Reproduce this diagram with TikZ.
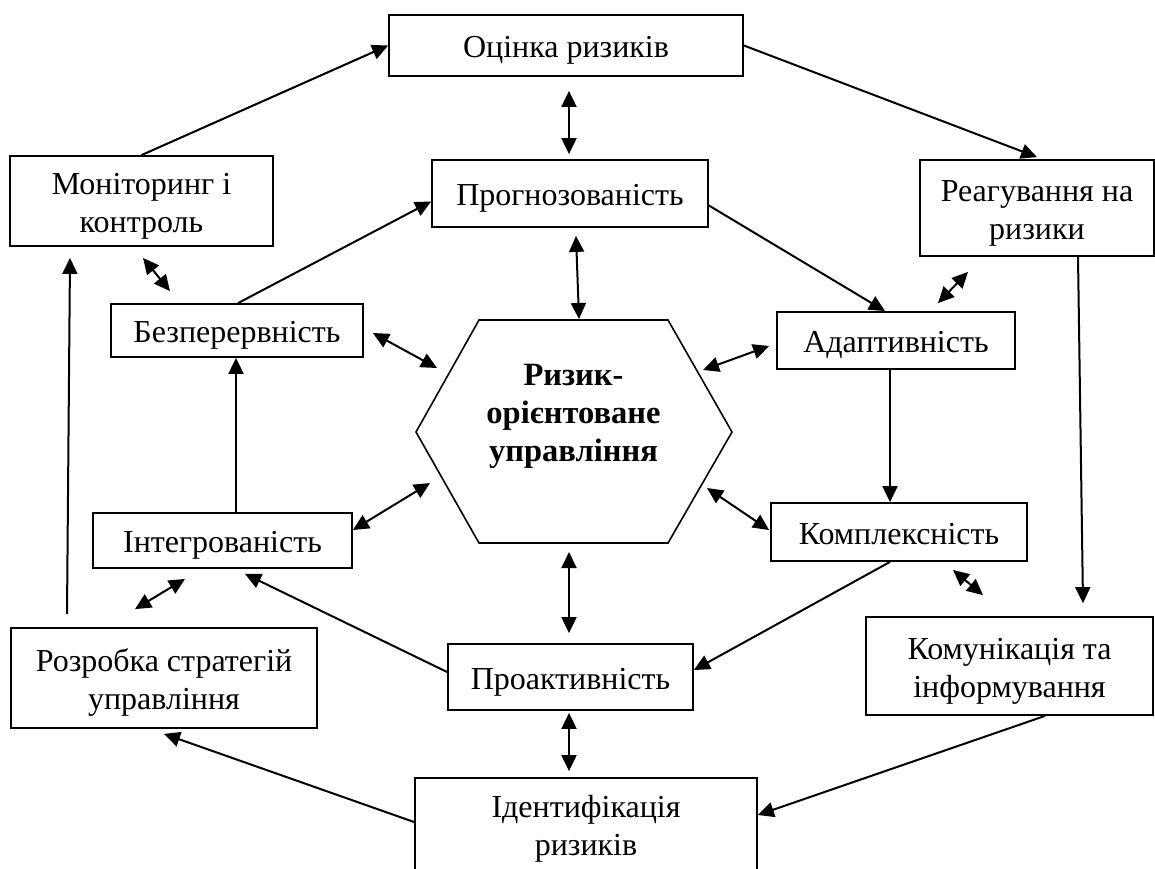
\documentclass[tikz,border=0pt]{standalone}
\usepackage{fontspec}
\setmainfont{Liberation Serif}
\usetikzlibrary{arrows.meta}

% box caption: centred lines, set a little below the geometric middle
\newcommand\boxtext[2][-4.5pt]{\raisebox{#1}[\height][\depth]{\begin{tabular}{@{}c@{}}#2\end{tabular}}}

\tikzset{
  box/.style={draw, line width=1.8pt, rectangle, inner sep=0pt,
              font=\fontsize{32}{38}\selectfont},
  tip/.tip={Triangle[length=16pt,width=15pt]},
  arr/.style={line width=2pt, -tip},
  dbl/.style={line width=2pt, tip-tip},
  hexline/.style={line width=1.6pt}
}

\begin{document}
\begin{tikzpicture}[x=1pt,y=-1pt]
\useasboundingbox (0,0) rectangle (1155,868);
\clip (0,0) rectangle (1155,868);

% outer ring of process boxes
\node[box, minimum width=354pt, minimum height=61pt] (ocin)  at (566,45.5)   {\boxtext{Оцінка ризиків}};
\node[box, minimum width=263pt, minimum height=90pt] (mon)   at (141.5,201)  {\boxtext{Моніторинг і\\контроль}};
\node[box, minimum width=234pt, minimum height=96pt] (reag)  at (1037,208)   {\boxtext{Реагування на\\ризики}};
\node[box, minimum width=306pt, minimum height=100pt] (rozr) at (164,678)    {\boxtext{Розробка стратегій\\управління}};
\node[box, minimum width=287pt, minimum height=98pt] (komun) at (1009.5,666) {\boxtext{Комунікація та\\інформування}};
\node[box, minimum width=342pt, minimum height=100pt] (ident) at (586,828)   {\boxtext[-1pt]{Ідентифікація\\ризиків}};

% inner ring of principle boxes
\node[box, minimum width=276pt, minimum height=67pt] (prog)   at (570,193.5) {\boxtext{Прогнозованість}};
\node[box, minimum width=252pt, minimum height=53pt] (bez)    at (237,330.5) {\boxtext{Безперервність}};
\node[box, minimum width=238pt, minimum height=57pt] (adapt)  at (896,340.5) {\boxtext{Адаптивність}};
\node[box, minimum width=259pt, minimum height=55pt] (integ)  at (222.5,540.5) {\boxtext{Інтегрованість}};
\node[box, minimum width=256pt, minimum height=58pt] (kompl)  at (899,532)   {\boxtext{Комплексність}};
\node[box, minimum width=245pt, minimum height=66pt] (proakt) at (570.5,677) {\boxtext{Проактивність}};

% central hexagon
\coordinate (hA) at (479,320);
\coordinate (hB) at (668,320);
\coordinate (hC) at (732,432);
\coordinate (hD) at (668,543);
\coordinate (hE) at (479,543);
\coordinate (hF) at (416,432);
\draw[hexline] (hA) -- (hB) -- (hC) -- (hD) -- (hE) -- (hF) -- cycle;
\node[align=center, inner sep=0pt, font=\fontsize{32.5}{38}\selectfont\bfseries] (hex) at (573.5,416)
  {Ризик-\\орієнтоване\\управління};

% points just off the hexagon where the two-way links end
\coordinate (hTop) at (579,319);
\coordinate (hBot) at (569,552);
\coordinate (hNW)  at (437,368);
\coordinate (hNE)  at (703,370);
\coordinate (hSW)  at (430,483);
\coordinate (hSE)  at (707,488);

% outer cycle
\draw[arr] (mon.north) -- (ocin.west);
\draw[arr] (ocin.east) -- ([yshift=2pt]reag.north);
\draw[arr] ([xshift=41pt]reag.south) -- ([xshift=73.5pt,yshift=13pt]komun.north);
\draw[arr] ([xshift=35.5pt]komun.south) -- ([yshift=13pt]ident.east);
\draw[arr] ([yshift=6pt]ident.west) -- ([yshift=-5pt]rozr.south);
\draw[arr] ([xshift=-97pt,yshift=13pt]rozr.north) -- ([xshift=-71.5pt,yshift=-11pt]mon.south);

% inner cycle
\draw[arr] ([xshift=1pt]bez.north) -- ([yshift=-8pt]prog.west);
\draw[arr] ([yshift=-12pt]prog.east) -- ([xshift=-11pt]adapt.north);
\draw[arr] ([xshift=-6pt]adapt.south) -- ([xshift=-9pt]kompl.north);
\draw[arr] ([xshift=-9pt]kompl.south) -- ([yshift=7pt]proakt.east);
\draw[arr] ([yshift=5pt]proakt.west) -- ([xshift=22.5pt,yshift=-5pt]integ.south);
\draw[arr] ([xshift=13.5pt]integ.north) -- ([xshift=-1pt]bez.south);

% two-way links
\draw[dbl] ([xshift=3pt,yshift=-14pt]ocin.south) -- ([xshift=-1pt,yshift=5pt]prog.north);
\draw[dbl] ([xshift=6pt,yshift=-8pt]prog.south) -- (hTop);
\draw[dbl] ([xshift=1.5pt,yshift=-11pt]mon.south) -- ([xshift=-67pt,yshift=12pt]bez.north);
\draw[dbl] ([xshift=9pt,yshift=-2.5pt]bez.east) -- (hNW);
\draw[dbl] ([xshift=-69pt,yshift=-15pt]reag.south) -- ([xshift=42pt,yshift=8pt]adapt.north);
\draw[dbl] ([xshift=-7pt,yshift=-5.5pt]adapt.west) -- (hNE);
\draw[dbl] ([yshift=10.5pt]integ.east) -- (hSW);
\draw[dbl] ([xshift=-1pt,yshift=2pt]kompl.west) -- (hSE);
\draw[dbl] ([xshift=-37.5pt,yshift=-10pt]integ.south) -- ([xshift=-29pt,yshift=18pt]rozr.north);
\draw[dbl] ([xshift=54pt,yshift=-8pt]kompl.south) -- ([xshift=-26.5pt,yshift=21pt]komun.north);
\draw[dbl] (hBot) -- ([xshift=-1.5pt,yshift=10pt]proakt.north);
\draw[dbl] ([xshift=-1.5pt,yshift=-2pt]proakt.south) -- ([xshift=-17pt,yshift=6pt]ident.north);
\end{tikzpicture}
\end{document}
